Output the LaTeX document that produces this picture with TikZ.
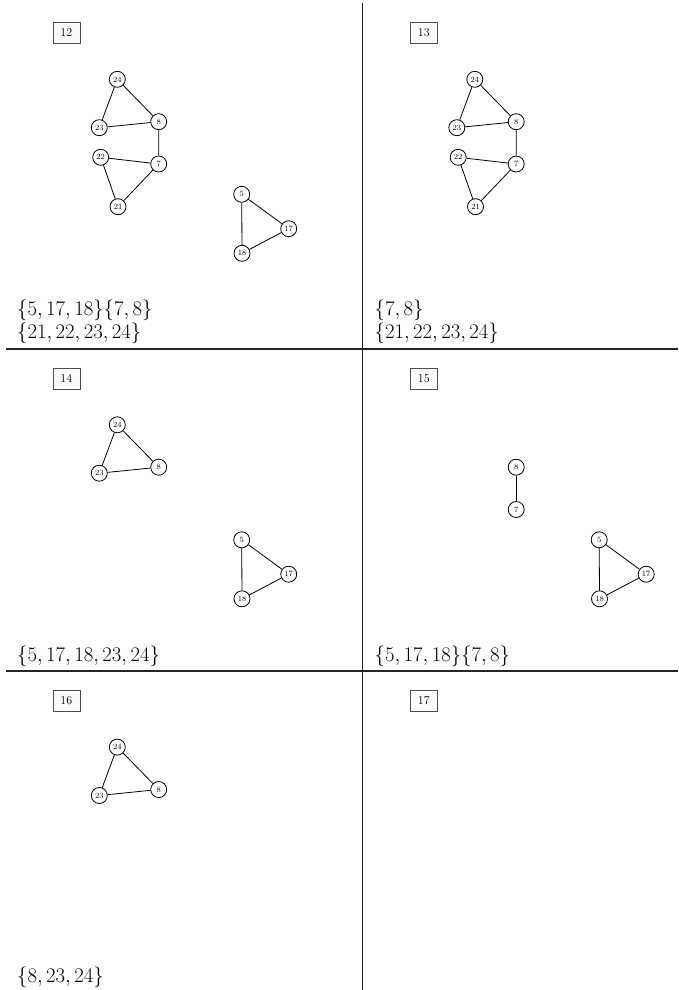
\documentclass[tikz,border=0pt]{standalone}
\usepackage{amsmath,amssymb}
\usepackage{tikz}

\tikzset{
  vtx/.style={circle, draw, thick, minimum size=16pt, inner sep=0pt, font=\fontsize{8}{9}\selectfont},
  stepno/.style={draw=black!70, fill=black!2, minimum width=27pt, minimum height=21pt, inner sep=0pt, font=\fontsize{12}{14}\selectfont},
  setlbl/.style={anchor=base west, inner sep=0pt, font=\fontsize{20}{23}\selectfont},
  edge/.style={line width=0.8pt},
  sepline/.style={line width=1.4pt, black!85}
}

\begin{document}
\begin{tikzpicture}[x=1pt, y=-1pt]
        \useasboundingbox (0,0) rectangle (678,990);
        % separators
        \draw[sepline] (362.7,3.5) -- (362.7,990);
        \draw[sepline] (6,349) -- (678,349);
        \draw[sepline] (6,671) -- (678,671);

        % 12
        \begin{scope}[name prefix=a-]
          \node[stepno] (no) at (66.3,32.8) {12};
          \node[vtx] (24) at (117.3,79.3) {24};
          \node[vtx] (8) at (158.7,121.7) {8};
          \node[vtx] (23) at (99.3,127.7) {23};
          \node[vtx] (22) at (100.7,157.3) {22};
          \node[vtx] (7) at (158.7,164) {7};
          \node[vtx] (21) at (118,206.7) {21};
          \node[vtx] (5) at (241.7,194.3) {5};
          \node[vtx] (17) at (288.7,228.7) {17};
          \node[vtx] (18) at (242,253.3) {18};
          \draw[edge] (24) -- (23) (24) -- (8) (23) -- (8) (8) -- (7);
          \draw[edge] (22) -- (7) (22) -- (21) (21) -- (7);
          \draw[edge] (5) -- (17) (5) -- (18) (17) -- (18);
          \node[setlbl] (s1) at (17,315) {$\{5,17,18\}\{7,8\}$};
          \node[setlbl] (s2) at (17,338) {$\{21,22,23,24\}$};
        \end{scope}

        % 13
        \begin{scope}[shift={(357.5,0)}, name prefix=b-]
          \node[stepno] (no) at (66.3,32.8) {13};
          \node[vtx] (24) at (117.3,79.3) {24};
          \node[vtx] (8) at (158.7,121.7) {8};
          \node[vtx] (23) at (99.3,127.7) {23};
          \node[vtx] (22) at (100.7,157.3) {22};
          \node[vtx] (7) at (158.7,164) {7};
          \node[vtx] (21) at (118,206.7) {21};
          \draw[edge] (24) -- (23) (24) -- (8) (23) -- (8) (8) -- (7);
          \draw[edge] (22) -- (7) (22) -- (21) (21) -- (7);
          \node[setlbl] (s1) at (17,315) {$\{7,8\}$};
          \node[setlbl] (s2) at (17,338) {$\{21,22,23,24\}$};
        \end{scope}

        % 14
        \begin{scope}[shift={(0,345.5)}, name prefix=c-]
          \node[stepno] (no) at (66.3,32.8) {14};
          \node[vtx] (24) at (117.3,79.3) {24};
          \node[vtx] (8) at (158.7,121.7) {8};
          \node[vtx] (23) at (99.3,127.7) {23};
          \node[vtx] (5) at (241.7,194.3) {5};
          \node[vtx] (17) at (288.7,228.7) {17};
          \node[vtx] (18) at (242,253.3) {18};
          \draw[edge] (24) -- (23) (24) -- (8) (23) -- (8);
          \draw[edge] (5) -- (17) (5) -- (18) (17) -- (18);
          \node[setlbl] (s1) at (17,315.5) {$\{5,17,18,23,24\}$};
        \end{scope}

        % 15
        \begin{scope}[shift={(357.5,345.5)}, name prefix=d-]
          \node[stepno] (no) at (66.3,32.8) {15};
          \node[vtx] (8) at (158.7,121.7) {8};
          \node[vtx] (7) at (158.7,164) {7};
          \node[vtx] (5) at (241.7,194.3) {5};
          \node[vtx] (17) at (288.7,228.7) {17};
          \node[vtx] (18) at (242,253.3) {18};
          \draw[edge] (8) -- (7);
          \draw[edge] (5) -- (17) (5) -- (18) (17) -- (18);
          \node[setlbl] (s1) at (17,315.5) {$\{5,17,18\}\{7,8\}$};
        \end{scope}

        % 16
        \begin{scope}[shift={(0,667.8)}, name prefix=e-]
          \node[stepno] (no) at (66.3,32.8) {16};
          \node[vtx] (24) at (117.3,79.3) {24};
          \node[vtx] (8) at (158.7,121.7) {8};
          \node[vtx] (23) at (99.3,127.7) {23};
          \draw[edge] (24) -- (23) (24) -- (8) (23) -- (8);
          \node[setlbl] (s1) at (17,315) {$\{8,23,24\}$};
        \end{scope}

        % 17
        \begin{scope}[shift={(357.5,667.8)}, name prefix=f-]
          \node[stepno] (no) at (66.3,32.8) {17};
        \end{scope}
      \end{tikzpicture}
\end{document}
